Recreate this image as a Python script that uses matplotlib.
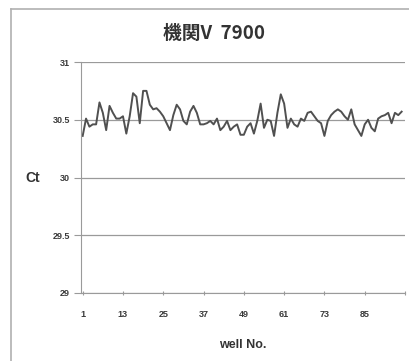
import numpy as np
import matplotlib.pyplot as plt

plt.rcParams['font.family'] = ['Liberation Sans', 'DejaVu Sans']

# Ct value per well (1..96)
wells = np.arange(1, 97)
ct = [30.36, 30.51, 30.44, 30.46, 30.46, 30.65, 30.56, 30.41, 30.62, 30.56,
      30.51, 30.51, 30.53, 30.38, 30.53, 30.73, 30.70, 30.47, 30.75, 30.75,
      30.63, 30.59, 30.60, 30.57, 30.53, 30.47, 30.41, 30.54, 30.63, 30.59,
      30.49, 30.46, 30.57, 30.62, 30.56, 30.46, 30.46, 30.47, 30.49, 30.46,
      30.51, 30.41, 30.44, 30.49, 30.41, 30.44, 30.46, 30.37, 30.37, 30.44,
      30.47, 30.38, 30.49, 30.64, 30.43, 30.50, 30.49, 30.36, 30.56, 30.72,
      30.64, 30.43, 30.51, 30.46, 30.44, 30.51, 30.49, 30.56, 30.57, 30.53,
      30.49, 30.47, 30.36, 30.49, 30.54, 30.57, 30.59, 30.57, 30.53, 30.50,
      30.59, 30.46, 30.41, 30.36, 30.46, 30.50, 30.43, 30.40, 30.51, 30.53,
      30.54, 30.56, 30.47, 30.56, 30.54, 30.57]
yticks = [29, 29.5, 30, 30.5, 31]
xticks = [1, 13, 25, 37, 49, 61, 73, 85]

fig = plt.figure(figsize=(4.10, 3.61), dpi=100)
ax = fig.add_axes([81 / 410, 1 - 293 / 361, 324 / 410, 231 / 361])

ax.plot(wells, ct, color='#505050', lw=1.4)

ax.set_xlim(0.5, 97)
ax.set_ylim(29, 31)
ax.set_yticks(yticks)
ax.set_yticklabels(['29', '29.5', '30', '30.5', '31'])
ax.set_xticks(xticks + [97])
ax.set_xticklabels([str(t) for t in xticks] + [''])
ax.grid(axis='y', color='#9a9a9a', lw=0.9)
ax.set_axisbelow(True)
for s in ['top', 'right']:
    ax.spines[s].set_visible(False)
ax.spines['left'].set_color('#9a9a9a')
ax.spines['bottom'].set_color('#9a9a9a')
ax.tick_params(axis='y', length=5, color='#9a9a9a', labelsize=6.5,
               labelcolor='#3a3a3a', pad=3)
ax.tick_params(axis='x', length=3, direction='inout', color='#9a9a9a',
               labelsize=6.5, labelcolor='#3a3a3a', pad=11)
for lbl in ax.get_xticklabels() + ax.get_yticklabels():
    lbl.set_fontweight('bold')

ax.set_xlabel('well No.', fontsize=9, fontweight='bold', color='#333333',
              labelpad=14)
fig.text(33 / 410, 1 - 178 / 361, 'Ct', fontsize=10, fontweight='bold',
         color='#333333', ha='center', va='center')
fig.text(214 / 410, 1 - 33 / 361, '機関V  7900', fontsize=13.5, fontweight='bold',
         color='#333333', ha='center', va='center',
         family=['Noto Sans CJK JP', 'DejaVu Sans'])

# chart area border
fig.add_artist(plt.Line2D([11.5 / 410, 11.5 / 410], [0, 1 - 9 / 361],
                          transform=fig.transFigure, color='#b0b0b0', lw=1.2))
fig.add_artist(plt.Line2D([11.5 / 410, 1], [1 - 9 / 361, 1 - 9 / 361],
                          transform=fig.transFigure, color='#b0b0b0', lw=1.2))

fig.savefig('out.png', dpi=100)
